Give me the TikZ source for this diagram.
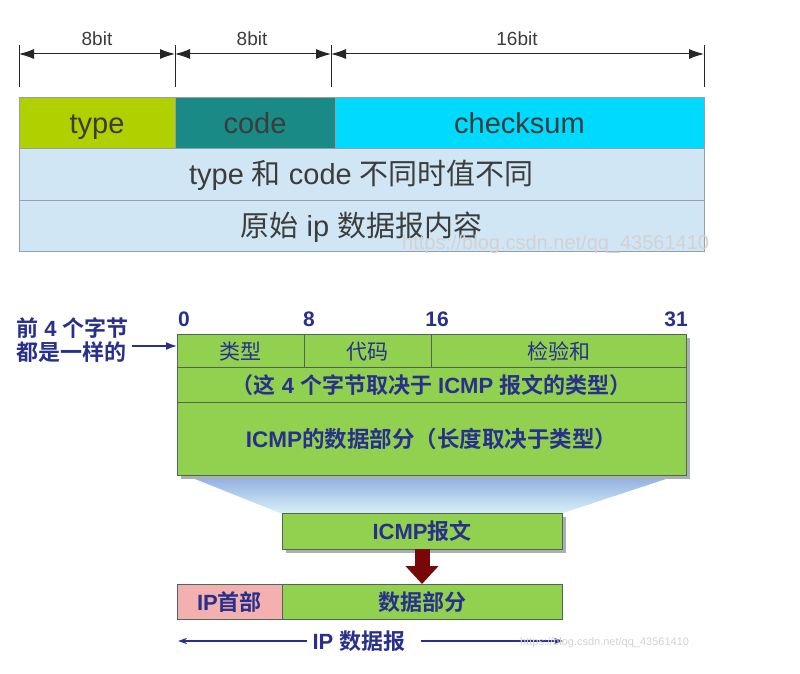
\documentclass[tikz,border=0pt]{standalone}
\usepackage{fontspec}
\setmainfont{Liberation Sans}
\newfontfamily\cjk[BoldFont={Noto Sans CJK SC Bold}]{Noto Sans CJK SC}
\newcommand\zh[1]{{\cjk #1}}
\usetikzlibrary{arrows.meta}
\definecolor{typegreen}{RGB}{176,208,0}
\definecolor{codeteal}{RGB}{26,138,134}
\definecolor{checkcyan}{RGB}{0,218,255}
\definecolor{lightblue}{RGB}{208,230,244}
\definecolor{topborder}{RGB}{150,160,170}
\definecolor{toptext}{RGB}{60,60,60}
\definecolor{navy}{RGB}{40,48,140}
\definecolor{botgreen}{RGB}{146,208,80}
\definecolor{botborder}{RGB}{80,100,90}
\definecolor{pinkish}{RGB}{244,175,175}
\definecolor{darkred}{RGB}{120,8,8}
\definecolor{shadowgray}{RGB}{170,175,180}
\definecolor{trapetop}{RGB}{145,175,225}
\definecolor{trapebot}{RGB}{215,240,245}
\begin{document}
\begin{tikzpicture}[x=1pt,y=-1pt,
  topcell/.style={draw=topborder, line width=0.8pt, inner sep=0pt, outer sep=0pt, anchor=north west, text=toptext, font=\fontsize{29}{34}\selectfont, text height=22pt, text depth=1pt},
  botcell/.style={draw=botborder, line width=0.8pt, inner sep=0pt, outer sep=0pt, anchor=north west, text=navy, font=\fontsize{22}{26}\selectfont\bfseries, text height=17pt, text depth=0pt},
  dimarrow/.style={{Latex[length=15pt,width=10pt]}-{Latex[length=15pt,width=10pt]}, line width=1pt, draw=black!85},
  tickline/.style={line width=1pt, draw=black!85},
  dimlabel/.style={font=\fontsize{19}{22}\selectfont, text=toptext, inner sep=0pt},
  numlabel/.style={font=\fontsize{21}{24}\selectfont\bfseries, text=navy, inner sep=0pt},
  navyline/.style={draw=navy, line width=1.6pt},
  blockarrow/.style={draw=darkred, line width=15pt, -{Triangle[length=18pt,width=32pt]}},
  watermark/.style={text=gray!35, inner sep=0pt}
]
\useasboundingbox (0,0) rectangle (800,674);
\fill[white] (0,0) rectangle (800,674);

% ---------- top diagram ----------
\coordinate (t0a) at (19,45);  \coordinate (t0b) at (19,87);
\coordinate (t1a) at (175,45); \coordinate (t1b) at (175,87);
\coordinate (t2a) at (331,45); \coordinate (t2b) at (331,87);
\coordinate (t3a) at (704,45); \coordinate (t3b) at (704,87);
\draw[tickline] (t0a) -- (t0b);
\draw[tickline] (t1a) -- (t1b);
\draw[tickline] (t2a) -- (t2b);
\draw[tickline] (t3a) -- (t3b);
\coordinate (d0) at (19,54); \coordinate (d1) at (175,54);
\coordinate (d2) at (331,54); \coordinate (d3) at (704,54);
\draw[dimarrow] (d0) -- (d1);
\draw[dimarrow] (d1) -- (d2);
\draw[dimarrow] (d2) -- (d3);
\node[dimlabel] (l1) at (97,39) {8bit};
\node[dimlabel] (l2) at (252,39) {8bit};
\node[dimlabel] (l3) at (517,39) {16bit};

\node[topcell, fill=typegreen, minimum width=156pt, minimum height=51pt] (type) at (19,97) {type};
\node[topcell, fill=codeteal, minimum width=160pt, minimum height=51pt] (code) at (175,97) {code};
\node[topcell, fill=checkcyan, minimum width=369pt, minimum height=51pt] (checksum) at (335,97) {checksum};
\node[topcell, fill=lightblue, minimum width=685pt, minimum height=52pt] (row2) at (19,148) {type \zh{和} code \zh{不同时值不同}};
\node[topcell, fill=lightblue, minimum width=685pt, minimum height=51pt] (row3) at (19,200) {\zh{原始} ip \zh{数据报内容}};

\node[watermark, font=\fontsize{20}{22}\selectfont, anchor=west] (wm1) at (402,244) {https://blog.csdn.net/qq\_43561410};

% ---------- bottom diagram ----------
\shade[top color=trapetop, bottom color=trapebot] (190,477) -- (672,477) -- (563,513) -- (280,513) -- cycle;

\fill[shadowgray] (181,338) rectangle (690,479);
\node[botcell, fill=botgreen, minimum width=127pt, minimum height=33pt, font=\fontsize{21}{25}\selectfont\cjk] (lei) at (177,334) {类型};
\node[botcell, fill=botgreen, minimum width=127pt, minimum height=33pt, font=\fontsize{21}{25}\selectfont\cjk] (dai) at (304,334) {代码};
\node[botcell, fill=botgreen, minimum width=255pt, minimum height=33pt, font=\fontsize{21}{25}\selectfont\cjk] (jian) at (431,334) {检验和};
\node[botcell, fill=botgreen, minimum width=509pt, minimum height=35pt] (zhe) at (177,367) {\zh{（这} 4 \zh{个字节取决于} ICMP \zh{报文的类型）}};
\node[botcell, fill=botgreen, minimum width=509pt, minimum height=73pt, font=\fontsize{22.5}{26}\selectfont\bfseries] (icmpdata) at (177,402) {ICMP\zh{的数据部分（长度取决于类型）}};

\node[numlabel] (n0) at (184,319) {0};
\node[numlabel] (n8) at (309,319) {8};
\node[numlabel] (n16) at (437,319) {16};
\node[numlabel] (n31) at (676,319) {31};

\node[font=\fontsize{22}{24}\selectfont\bfseries, text=navy, align=left, inner sep=0pt, anchor=west] (lbl) at (16,340) {\zh{前} 4 \zh{个字节}\\\zh{都是一样的}};
\draw[navyline, -{Latex[length=11pt,width=8pt]}] ([xshift=3pt,yshift=-6pt]lbl.east) -- ([yshift=4.5pt]lei.west);

\fill[shadowgray] (286,517) rectangle (566,553);
\node[botcell, fill=botgreen, minimum width=280pt, minimum height=36pt] (icmp) at (282,513) {ICMP\zh{报文}};

\node[botcell, fill=pinkish, minimum width=105pt, minimum height=35pt] (iphead) at (177,584) {IP\zh{首部}};
\node[botcell, fill=botgreen, minimum width=280pt, minimum height=35pt] (data) at (282,584) {\zh{数据部分}};

\draw[blockarrow] (icmp.south) -- (data.north);

\node[font=\fontsize{22}{25}\selectfont\bfseries, text=navy, inner xsep=5pt, inner ysep=0pt] (ipdg) at (359,641) {IP \zh{数据报}};
\coordinate (ipl) at (178,641);
\coordinate (ipr) at (563,641);
\draw[navyline, -{Stealth[length=9pt,width=6pt]}] (ipdg.west) -- (ipl);
\draw[navyline, -{Stealth[length=9pt,width=6pt]}] ([xshift=10pt]ipdg.east) -- (ipr);

\node[watermark, font=\fontsize{11}{13}\selectfont, anchor=west] (wm2) at (520,643) {https://blog.csdn.net/qq\_43561410};
\end{tikzpicture}
\end{document}
